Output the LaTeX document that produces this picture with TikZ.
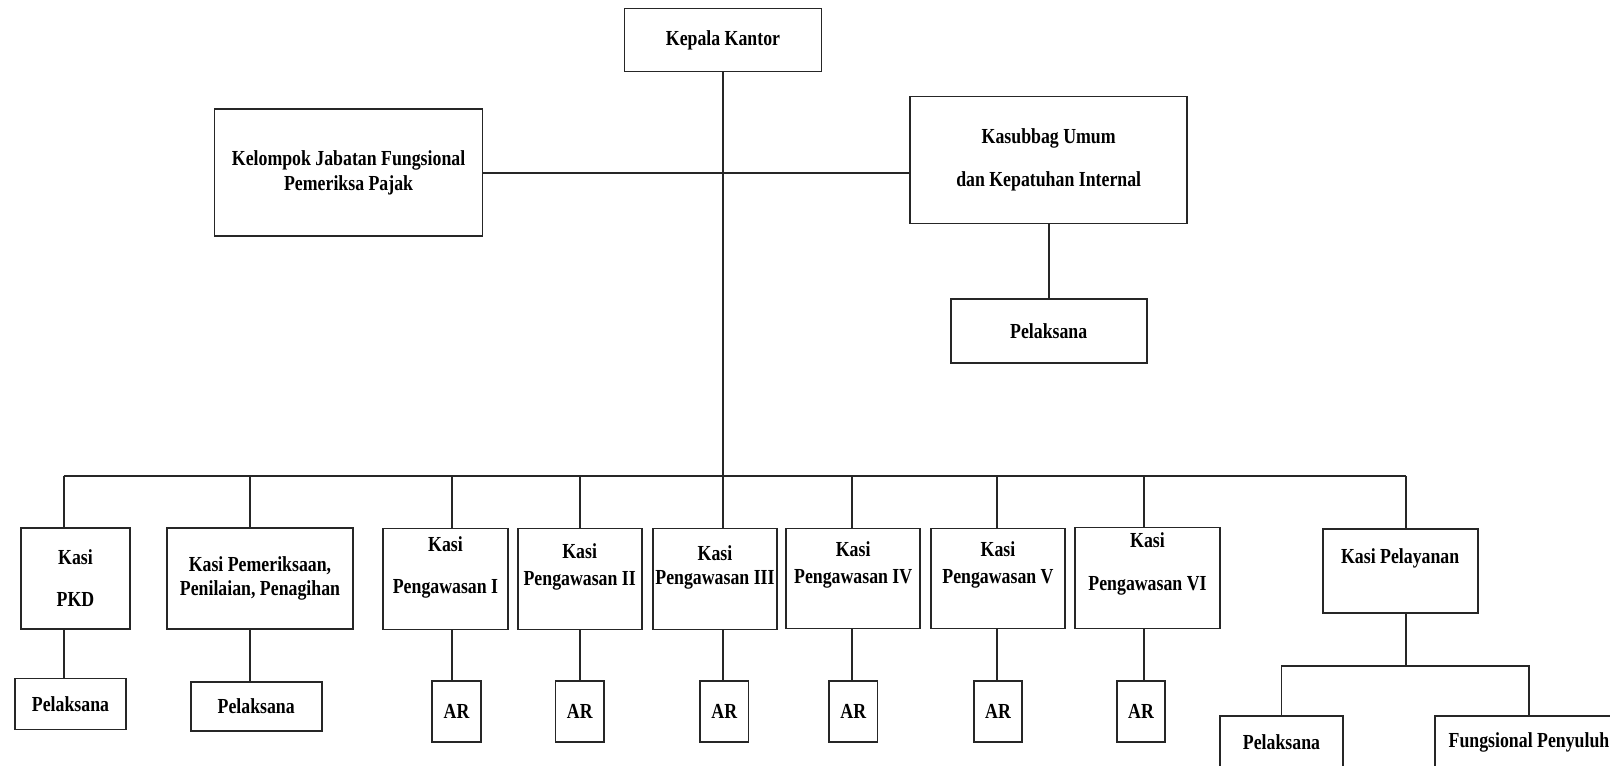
\documentclass[tikz,border=0pt]{standalone}
\usepackage{fontspec}
\setmainfont{Liberation Serif}[FakeStretch=0.83]
\newcommand{\px}[0]{0.02cm}
\newcommand{\chartFont}[0]{\fontsize{12.2}{14}\selectfont\bfseries}
\newcommand{\lineColor}[0]{black!85}

\begin{document}
\begin{tikzpicture}[x=\px, y=-\px]
  \tikzset{
    unit/.style 2 args={draw=\lineColor, line width=1pt, inner sep=0pt, align=center,
      font=\chartFont, minimum width=#1*\px, minimum height=#2*\px},
    caption/.style={align=center, font=\chartFont, inner sep=0pt},
    link/.style={draw=\lineColor, line width=1pt}
  }
  \useasboundingbox (0,0) rectangle (1610,766);
  \clip (0,0) rectangle (1610,766);

  % top part
  \node[unit={197}{63}] (kepala) at (723,40) {Kepala Kantor};
  \node[unit={268}{127}] (kelompok) at (348.6,172.7) {Kelompok Jabatan Fungsional\\Pemeriksa Pajak};
  \node[unit={277}{127}] (kasubbag) at (1048.7,160) {Kasubbag Umum\\[10.5pt]dan Kepatuhan Internal};
  \node[unit={196}{64}] (pelUmum) at (1048.7,331) {Pelaksana};

  % bus
  \coordinate (b1) at (63.7,476);
  \coordinate (b2) at (249.7,476);
  \coordinate (b3) at (452,476);
  \coordinate (b4) at (579.7,476);
  \coordinate (b5) at (723,476);
  \coordinate (b6) at (852.3,476);
  \coordinate (b7) at (997,476);
  \coordinate (b8) at (1143.7,476);
  \coordinate (b9) at (1405.7,476);
  \coordinate (split) at (1405.7,666);

  % kasi row
  \node[unit={108.5}{101}] (kasiPkd) at (75.5,578.5) {Kasi\\[10pt]PKD};
  \node[unit={186}{101}] (kasiPem) at (260,578.5) {Kasi Pemeriksaan,\\Penilaian, Penagihan};
  \node[unit={124.4}{101}] (kasiPeng1) at (445.5,579) {};
  \node[unit={124}{101}] (kasiPeng2) at (579.7,579) {};
  \node[unit={124}{101}] (kasiPeng3) at (715,579) {};
  \node[unit={134.3}{100}] (kasiPeng4) at (853.2,578.5) {};
  \node[unit={134.6}{100}] (kasiPeng5) at (998,578.5) {};
  \node[unit={144.4}{101}] (kasiPeng6) at (1147.5,578) {};
  \node[unit={155}{84}] (kasiLay) at (1400.2,571) {};
  \node[caption] (kasiPeng1-txt) at (445.5,567.5) {Kasi\\[10pt]Pengawasan I};
  \node[caption] (kasiPeng2-txt) at (579.7,566.5) {Kasi\\[1.4pt]Pengawasan II};
  \node[caption] (kasiPeng3-txt) at (715,567.5) {Kasi\\Pengawasan III};
  \node[caption] (kasiPeng4-txt) at (853.2,565) {Kasi\\[1pt]Pengawasan IV};
  \node[caption] (kasiPeng5-txt) at (998,565) {Kasi\\[1pt]Pengawasan V};
  \node[caption] (kasiPeng6-txt) at (1147.5,564) {Kasi\\[10pt]Pengawasan VI};
  \node[caption] (kasiLay-txt) at (1400.2,558.3) {Kasi Pelayanan};

  % bottom row
  \node[unit={110.5}{51}] (pelPkd) at (70.5,704) {Pelaksana};
  \node[unit={131}{48.5}] (pelPem) at (256.2,706.5) {Pelaksana};
  \node[unit={48.5}{61}] (ar1) at (456.5,711.3) {AR};
  \node[unit={48.5}{61}] (ar2) at (579.8,711.3) {AR};
  \node[unit={48.5}{61}] (ar3) at (724.3,711.3) {AR};
  \node[unit={48.5}{61}] (ar4) at (853.3,711.3) {AR};
  \node[unit={48.5}{61}] (ar5) at (998,711.3) {AR};
  \node[unit={48.5}{61}] (ar6) at (1141,711.3) {AR};
  \node[unit={123.6}{52}] (pelLay) at (1281.5,742.3) {Pelaksana};
  \node[unit={188}{52}] (fungsional) at (1529,742.3) {Fungsional Penyuluh};

  \draw[link] (kepala.south) -- (b5);
  \draw[link] (kelompok.east) -- (kelompok.east -| kasubbag.west);
  \draw[link] (kasubbag.south) -- (pelUmum.north);
  \draw[link] (b1) -- (b9);
  \foreach \b/\k/\s in {b1/kasiPkd/pelPkd, b2/kasiPem/pelPem, b3/kasiPeng1/ar1, b4/kasiPeng2/ar2,
      b5/kasiPeng3/ar3, b6/kasiPeng4/ar4, b7/kasiPeng5/ar5, b8/kasiPeng6/ar6}{
    \draw[link] (\b) -- (\b |- \k.north);
    \draw[link] (\b |- \k.south) -- (\b |- \s.north);
  }
  \draw[link] (b9) -- (b9 |- kasiLay.north);
  \draw[link] (b9 |- kasiLay.south) -- (split);
  \draw[link] (pelLay.north) |- (split) -| (fungsional.north);
\end{tikzpicture}
\end{document}
